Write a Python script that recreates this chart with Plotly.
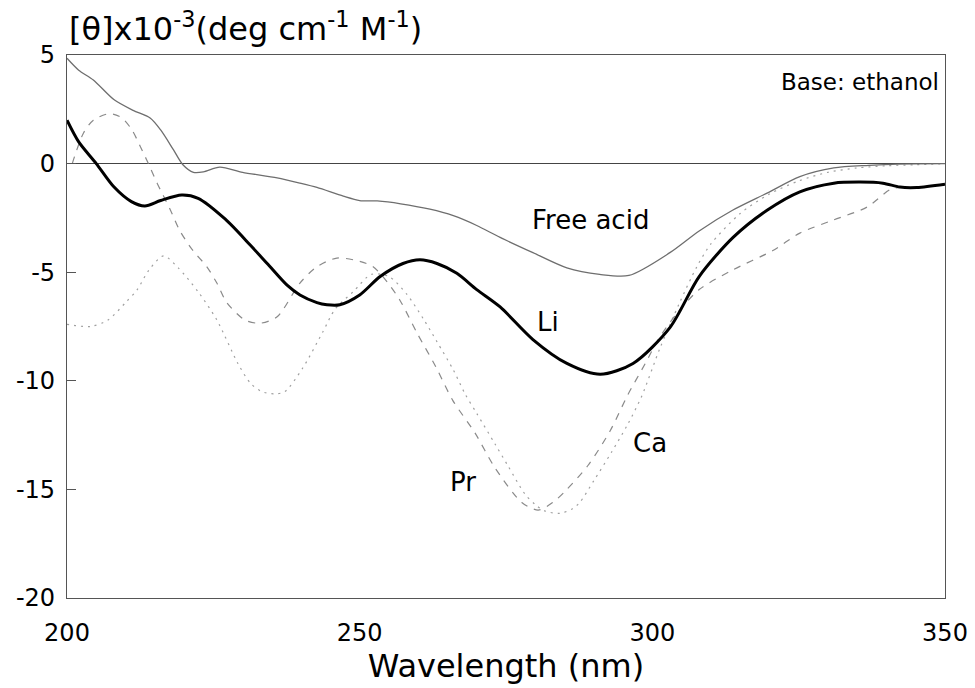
import plotly.graph_objects as go

# ---- data ----
free_x = [200, 202, 204.5, 208, 211.3, 214.2, 216, 218.2, 219.8, 221.6, 223.3, 226.1, 230, 235.9, 239.8,
          242.7, 247.2, 250, 253, 257, 262, 266, 270, 274, 279.6, 285.4, 291, 296, 303, 308, 313.7,
          319.6, 325.2, 331, 337, 342, 350]
free_y = [4.85, 4.3, 3.85, 2.95, 2.45, 2.1, 1.55, 0.63, -0.05, -0.4, -0.38, -0.16, -0.4, -0.66, -0.9,
          -1.1, -1.5, -1.7, -1.72, -1.85, -2.1, -2.4, -2.85, -3.4, -4.1, -4.8, -5.1, -5.15, -4.1, -3.1, -2.15,
          -1.36, -0.6, -0.2, -0.08, -0.02, 0]

li_x = [200, 202, 205, 208, 211, 213.3, 216, 219.6, 222.4, 227, 231.3, 234.2, 237.6, 239.8, 242.7, 244.4,
        246.6, 250, 253.5, 257.4, 260.3, 263.2, 266.6, 270, 274, 279.6, 285.4, 291.1, 296.7, 303, 308,
        313.8, 319.6, 325.2, 331, 335.5, 339.4, 342.3, 345.2, 350]
li_y = [2.0, 1.0, 0, -1.07, -1.75, -1.95, -1.7, -1.45, -1.6, -2.55, -3.75, -4.6, -5.6, -6.05, -6.4, -6.5,
        -6.5, -6.05, -5.2, -4.6, -4.43, -4.6, -5.05, -5.8, -6.6, -8.1, -9.2, -9.7, -9.2, -7.55, -5.2,
        -3.4, -2.15, -1.3, -0.9, -0.85, -0.9, -1.08, -1.1, -0.95]

pr_x = [200.9, 202.8, 204.5, 207.3, 209.4, 211.1, 212.5, 213.9, 215.4, 217.6, 219.3, 221.5, 223.9, 225.6,
        227.3, 230.4, 233, 235.9, 239.8, 242.7, 246.1, 250, 252.3, 254.7, 256.9, 259.8, 263, 265.9, 269.7,
        273.1, 277.7, 280.5, 283, 285.4, 289, 292.8, 295.8, 298.8, 301, 304.2, 308, 313.7, 320.6, 325.2,
        330.9, 336.7, 340.6, 342.3, 345, 350]
pr_y = [0, 1.4, 2.0, 2.3, 2.1, 1.55, 0.8, 0, -0.9, -2.1, -3.1, -4.0, -4.75, -5.5,
        -6.4, -7.2, -7.35, -7.05, -5.5, -4.75, -4.35, -4.5, -4.75, -5.45, -6.3, -7.8, -9.35, -10.9, -12.4,
        -14.0, -15.6, -15.95, -15.6, -15.0, -13.9, -12.3, -10.65, -9.2, -8.1, -6.9, -5.8, -4.9, -4.0, -3.2,
        -2.6, -2.0, -1.2, -1.1, -1.1, -0.95]

ca_x = [200, 204, 207, 210, 212, 214, 216.5, 219, 222.4, 225.6, 229.2, 231.3, 233.3, 235.5, 237.2, 240.3,
        243.7, 245.8, 248.9, 252, 255, 258, 261, 263.2, 266, 268, 270, 273.1, 275.3, 278.2, 280, 281.7,
        284.2, 286.3, 287.6, 290, 293, 295.8, 298.2, 301.3, 304.5, 307.6, 310, 315, 320, 325, 330, 335,
        340, 345, 350]
ca_y = [-7.4, -7.5, -7.2, -6.4, -5.8, -4.9, -4.25, -4.8, -5.9, -7.2, -9.2, -10.1, -10.5, -10.6, -10.5, -9.4,
        -7.75, -6.7, -5.9, -5.1, -5.2, -6.0, -7.2, -8.2, -9.5, -10.6, -11.5, -12.9, -13.9, -15.2, -15.7, -16.0,
        -16.1, -15.9, -15.6, -14.6, -13.3, -12.0, -10.7, -8.5, -6.5, -4.75, -3.7, -2.3, -1.4, -0.8, -0.4, -0.2,
        -0.1, -0.05, 0]

x_ticks = [200, 250, 300, 350]
y_ticks = [5, 0, -5, -10, -15, -20]

labels = [("Free acid", 289.4, -2.6), ("Li", 282.2, -7.3), ("Pr", 267.7, -14.65), ("Ca", 299.6, -12.85)]

FONT = "DejaVu Sans, Liberation Sans, Arial, sans-serif"

fig = go.Figure()
fig.add_trace(go.Scatter(x=ca_x, y=ca_y, mode="lines", name="Ca",
                         line=dict(color="#a0a0a0", width=1.2, dash="2px,5px", shape="spline", smoothing=0.8)))
fig.add_trace(go.Scatter(x=pr_x, y=pr_y, mode="lines", name="Pr",
                         line=dict(color="#8a8a8a", width=1.2, dash="7px,7px", shape="spline", smoothing=0.8)))
fig.add_trace(go.Scatter(x=free_x, y=free_y, mode="lines", name="Free acid",
                         line=dict(color="#6e6e6e", width=1.3, shape="spline", smoothing=0.8)))
fig.add_trace(go.Scatter(x=li_x, y=li_y, mode="lines", name="Li",
                         line=dict(color="#000000", width=3, shape="spline", smoothing=0.8)))

for txt, lx, ly in labels:
    fig.add_annotation(x=lx, y=ly, text=txt, showarrow=False,
                       font=dict(family=FONT, size=26, color="#000"))

fig.add_annotation(xref="paper", yref="paper", x=0.995, y=0.950, xanchor="right", yanchor="middle",
                   text="Base: ethanol", showarrow=False, font=dict(family=FONT, size=23, color="#000"))
fig.add_annotation(xref="paper", yref="paper", x=0.0, y=1.052, xanchor="left", yanchor="middle",
                   text="[θ]x10<sup>-3</sup>(deg cm<sup>-1</sup> M<sup>-1</sup>)", showarrow=False,
                   font=dict(family=FONT, size=32, color="#000"))

fig.update_layout(
    width=975, height=688,
    margin=dict(l=67, r=30, t=55, b=90, autoexpand=False),
    paper_bgcolor="white", plot_bgcolor="white",
    showlegend=False,
    font=dict(family=FONT, color="#000"),
)
fig.update_xaxes(range=[200, 350], tickvals=x_ticks, ticktext=[str(v) for v in x_ticks],
                 showgrid=False, zeroline=False, showline=True, linecolor="#555", linewidth=1.2, mirror=True,
                 automargin=False,
                 ticks="inside", ticklen=0, tickfont=dict(family=FONT, size=24), ticklabelstandoff=13,
                 title=dict(text="Wavelength (nm)", font=dict(family=FONT, size=32), standoff=1))
fig.update_yaxes(range=[-20, 5], tickvals=y_ticks, ticktext=[str(v) for v in y_ticks],
                 showgrid=False, zeroline=True, zerolinecolor="#444", zerolinewidth=1.2,
                 showline=True, linecolor="#555", linewidth=1.2, mirror=True, automargin=False,
                 ticks="inside", ticklen=9, tickcolor="#555", tickfont=dict(family=FONT, size=24),
                 ticklabelstandoff=6)

fig.write_html("out.html")
